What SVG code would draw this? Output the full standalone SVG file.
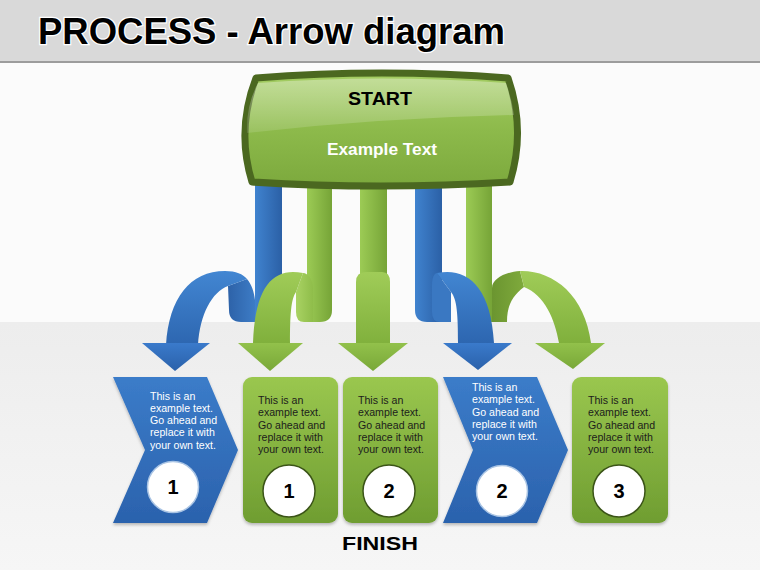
<svg xmlns="http://www.w3.org/2000/svg" width="760" height="570" viewBox="0 0 760 570">
<defs>
<style>
.ttl{font-family:"Liberation Sans",Arial,sans-serif;font-weight:bold;}
.bt{font-family:"Liberation Sans",Arial,sans-serif;font-size:10.6px;}
.wt{fill:#ffffff;}
.dk{fill:#1c1c1c;}
.num{font-family:"Liberation Sans",Arial,sans-serif;font-weight:bold;font-size:20px;fill:#000;text-anchor:middle;}
.cb{fill:#fff;stroke:#a9c4e4;stroke-width:1.5;}
.cg{fill:#fff;stroke:#3b5418;stroke-width:1.5;}
</style>
<linearGradient id="bStrip" x1="0" y1="0" x2="1" y2="0"><stop offset="0" stop-color="#4083cf"/><stop offset="1" stop-color="#2b60a6"/></linearGradient>
<linearGradient id="gStrip" x1="0" y1="0" x2="1" y2="0"><stop offset="0" stop-color="#9ccb55"/><stop offset="1" stop-color="#76a437"/></linearGradient>
<linearGradient id="bFace" x1="0" y1="0" x2="0" y2="1"><stop offset="0" stop-color="#4286d2"/><stop offset="1" stop-color="#2d66b0"/></linearGradient>
<linearGradient id="gFace" x1="0" y1="0" x2="0" y2="1"><stop offset="0" stop-color="#a0cc58"/><stop offset="1" stop-color="#80b03c"/></linearGradient>
<linearGradient id="bBack" x1="0" y1="0" x2="1" y2="0"><stop offset="0" stop-color="#2d62a8"/><stop offset="1" stop-color="#3d7cc6"/></linearGradient>
<linearGradient id="gBackL" x1="0" y1="0" x2="1" y2="0"><stop offset="0" stop-color="#a9d263"/><stop offset="1" stop-color="#8fbd4a"/></linearGradient>
<linearGradient id="gBackD" x1="0" y1="0" x2="1" y2="0"><stop offset="0" stop-color="#6b9530"/><stop offset="1" stop-color="#7faa3c"/></linearGradient>
<linearGradient id="bHead" x1="0" y1="0" x2="0" y2="1"><stop offset="0" stop-color="#3a7acb"/><stop offset="1" stop-color="#2a61aa"/></linearGradient>
<linearGradient id="gHead" x1="0" y1="0" x2="0" y2="1"><stop offset="0" stop-color="#92c14b"/><stop offset="1" stop-color="#79a838"/></linearGradient>
<linearGradient id="chev" x1="0" y1="0" x2="0" y2="1"><stop offset="0" stop-color="#3b7cc9"/><stop offset="1" stop-color="#2b62ad"/></linearGradient>
<linearGradient id="gbox" x1="0" y1="0" x2="0" y2="1"><stop offset="0" stop-color="#9ac74f"/><stop offset="1" stop-color="#6f9d31"/></linearGradient>
<linearGradient id="startFill" x1="0" y1="0" x2="0" y2="1"><stop offset="0" stop-color="#a4cd63"/><stop offset="0.5" stop-color="#8dba4b"/><stop offset="1" stop-color="#7ca93d"/></linearGradient>
<linearGradient id="gloss" x1="0" y1="0" x2="0" y2="1"><stop offset="0" stop-color="#ffffff" stop-opacity="0.35"/><stop offset="1" stop-color="#ffffff" stop-opacity="0.12"/></linearGradient>
<linearGradient id="floor" x1="0" y1="0" x2="0" y2="1"><stop offset="0" stop-color="#ededed"/><stop offset="1" stop-color="#f6f6f6"/></linearGradient>
<filter id="sh" x="-10%" y="-10%" width="120%" height="125%"><feDropShadow dx="0" dy="2" stdDeviation="1.5" flood-color="#000" flood-opacity="0.25"/></filter>
</defs>

<!-- background -->
<rect x="0" y="0" width="760" height="570" fill="#fbfbfb"/>
<rect x="0" y="322" width="760" height="248" fill="url(#floor)"/>
<rect x="0" y="0" width="760" height="62" fill="#d9d9d9"/>
<rect x="0" y="61" width="760" height="2" fill="#9c9c9c"/>
<text class="ttl" x="38" y="44" font-size="36" fill="#000" stroke="#ffffff" stroke-width="2.5" paint-order="stroke" textLength="467" lengthAdjust="spacingAndGlyphs">PROCESS - Arrow diagram</text>

<g id="connectors">
  <!-- strips -->
  <path d="M255,180 H282 V310 Q282,322 270,322 H255 Z" fill="url(#bStrip)"/>
  <path d="M307,180 H332 V310 Q332,322 320,322 H307 Z" fill="url(#gStrip)"/>
  <path d="M360,180 H387 V290 H360 Z" fill="url(#gStrip)"/>
  <path d="M415,180 H442 V322 H427 Q415,322 415,310 Z" fill="url(#bStrip)"/>
  <path d="M466,180 H492 V322 H478 Q466,322 466,310 Z" fill="url(#gStrip)"/>

  <!-- arrow A (blue, left) -->
  <path d="M228,286 L247,279 C252,285 254,292 255,300 L255,322 H241 Q229,322 229,310 Z" fill="url(#bBack)"/>
  <path d="M166,345 C169,298 190,271 225,271 C236,271 243,274 247,279 L228,286 C212,292 200,314 198,345 Z" fill="url(#bFace)"/>
  <polygon points="142,343 210,343 175,371" fill="url(#bHead)"/>

  <!-- arrow B (green) -->
  <path d="M296,292 L303,273 C308,273 313,280 313,288 V322 H304 Q296,322 296,312 Z" fill="url(#gBackL)"/>
  <path d="M303,273 C274,267 255,285 253,343 L290,343 C290,315 291,299 296,292 Z" fill="url(#gFace)"/>
  <polygon points="238,343 303,343 270,371" fill="url(#gHead)"/>

  <!-- arrow E (green middle) -->
  <path d="M356,345 V282 Q356,272 366,272 H382 Q390,272 390,282 V345 Z" fill="url(#gFace)"/>
  <polygon points="338,343 408,343 373,371" fill="url(#gHead)"/>

  <!-- arrow C (blue) -->
  <path d="M432,285 C432,278 434,273 437,273 L451,292 L451,322 H440 Q432,322 432,312 Z" fill="#3a78c2"/>
  <path d="M437,273 C466,267 491,285 494,343 L458,343 C458,315 457,299 451,292 Z" fill="url(#bFace)"/>
  <polygon points="443,343 512,343 478,370" fill="url(#bHead)"/>

  <!-- arrow D (green right) -->
  <path d="M492,322 V288 C492,279 505,272 520,271 L524,287 C512,296 507,306 507,322 Z" fill="url(#gBackD)"/>
  <path d="M520,271 C553,270 585,295 591,343 L559,343 C555,320 545,295 524,287 Z" fill="url(#gFace)"/>
  <polygon points="535,343 605,343 573,369" fill="url(#gHead)"/>
</g>

<g id="start">
  <path d="M256,78 Q382,68 508,78 Q526,130 510,182 Q380,190 252,182 Q236,130 256,78 Z" fill="url(#startFill)" stroke="#4b6820" stroke-width="7" stroke-linejoin="round"/>
  <path d="M258,83 Q382,74 506,83 Q512,100 514,115 Q380,118 247,133 Q246,105 258,83 Z" fill="url(#gloss)"/>
  <text class="ttl" x="380" y="105" font-size="18" fill="#000" text-anchor="middle" textLength="64" lengthAdjust="spacingAndGlyphs">START</text>
  <text class="ttl" x="382" y="155" font-size="16" fill="#ffffff" text-anchor="middle" textLength="110" lengthAdjust="spacingAndGlyphs">Example Text</text>
</g>

<g id="box1">
  <polygon points="113,377 207,377 238,450 207,523 113,523 145,450" fill="url(#chev)" filter="url(#sh)"/>
  <text class="bt wt" x="150" y="399.5"><tspan x="150">This is an</tspan><tspan x="150" dy="12.3">example text.</tspan><tspan x="150" dy="12.3">Go ahead and</tspan><tspan x="150" dy="12.3">replace it with</tspan><tspan x="150" dy="12.3">your own text.</tspan></text>
  <circle class="cb" cx="173" cy="487" r="25.5"/>
  <text class="num" x="173" y="494">1</text>
</g>

<g id="box2">
  <rect x="243" y="377" width="95" height="146" rx="9" fill="url(#gbox)" filter="url(#sh)"/>
  <text class="bt dk" x="258" y="404"><tspan x="258">This is an</tspan><tspan x="258" dy="12.3">example text.</tspan><tspan x="258" dy="12.3">Go ahead and</tspan><tspan x="258" dy="12.3">replace it with</tspan><tspan x="258" dy="12.3">your own text.</tspan></text>
  <circle class="cg" cx="289" cy="491" r="26"/>
  <text class="num" x="289" y="498">1</text>
</g>

<g id="box3">
  <rect x="343" y="377" width="95" height="146" rx="9" fill="url(#gbox)" filter="url(#sh)"/>
  <text class="bt dk" x="358" y="404"><tspan x="358">This is an</tspan><tspan x="358" dy="12.3">example text.</tspan><tspan x="358" dy="12.3">Go ahead and</tspan><tspan x="358" dy="12.3">replace it with</tspan><tspan x="358" dy="12.3">your own text.</tspan></text>
  <circle class="cg" cx="389" cy="491" r="26"/>
  <text class="num" x="389" y="498">2</text>
</g>

<g id="box4">
  <polygon points="443,377 537,377 568,450 537,523 443,523 473,450" fill="url(#chev)" filter="url(#sh)"/>
  <text class="bt wt" x="472" y="391"><tspan x="472">This is an</tspan><tspan x="472" dy="12.3">example text.</tspan><tspan x="472" dy="12.3">Go ahead and</tspan><tspan x="472" dy="12.3">replace it with</tspan><tspan x="472" dy="12.3">your own text.</tspan></text>
  <circle class="cb" cx="502" cy="491" r="25.5"/>
  <text class="num" x="502" y="498">2</text>
</g>

<g id="box5">
  <rect x="572" y="377" width="96" height="146" rx="9" fill="url(#gbox)" filter="url(#sh)"/>
  <text class="bt dk" x="588" y="404"><tspan x="588">This is an</tspan><tspan x="588" dy="12.3">example text.</tspan><tspan x="588" dy="12.3">Go ahead and</tspan><tspan x="588" dy="12.3">replace it with</tspan><tspan x="588" dy="12.3">your own text.</tspan></text>
  <circle class="cg" cx="619" cy="491" r="26"/>
  <text class="num" x="619" y="498">3</text>
</g>

<g id="finish">
  <text class="ttl" x="342" y="550" font-size="19" fill="#000" textLength="76" lengthAdjust="spacingAndGlyphs">FINISH</text>
</g>
</svg>
